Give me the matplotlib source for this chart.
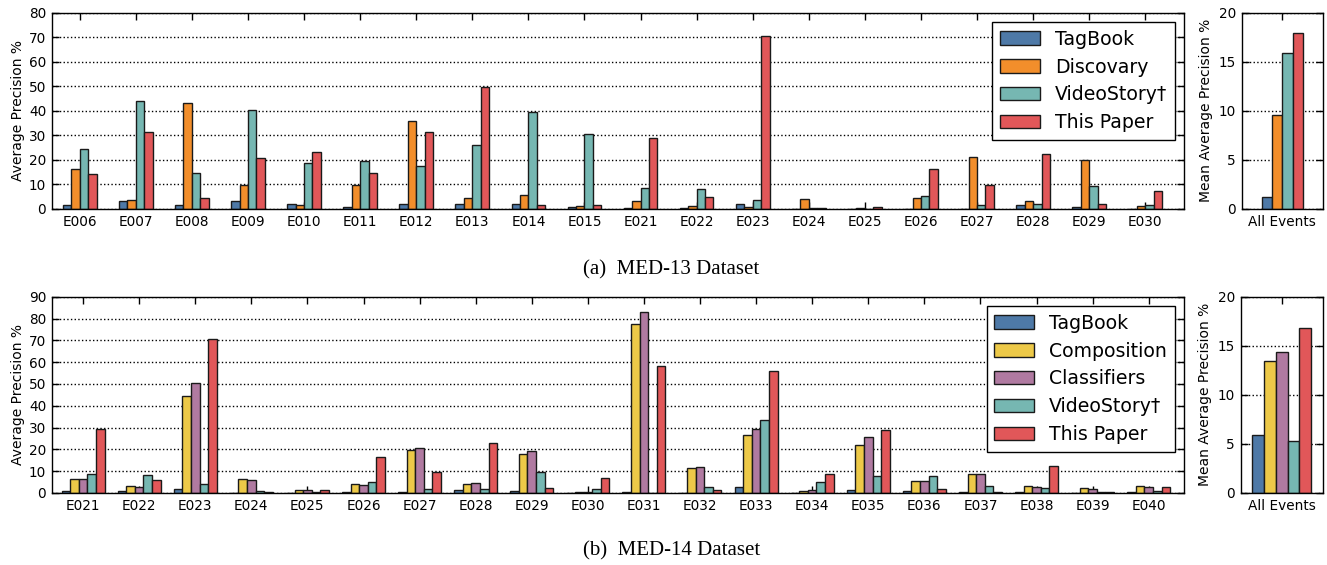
import matplotlib.pyplot as plt
import numpy as np

plt.rcParams['font.family'] = 'DejaVu Sans'

# MED-13 per-event average precision (%)
med13_events = ['E006', 'E007', 'E008', 'E009', 'E010', 'E011', 'E012', 'E013', 'E014', 'E015',
                'E021', 'E022', 'E023', 'E024', 'E025', 'E026', 'E027', 'E028', 'E029', 'E030']
med13_tagbook = [1.5, 3.3, 1.7, 3.2, 1.9, 1.0, 1.9, 2.0, 2.0, 1.0,
                 0.5, 0.3, 1.9, 0.1, 0.1, 0.2, 0.2, 1.5, 1.0, 0.2]
med13_discovery = [16.3, 3.5, 43.3, 9.6, 1.5, 9.6, 35.8, 4.3, 5.7, 1.1,
                   3.3, 1.4, 0.7, 3.9, 0.6, 4.5, 21.3, 3.3, 19.8, 1.1]
med13_videostory = [24.5, 43.9, 14.5, 40.2, 18.7, 19.4, 17.5, 26.0, 39.7, 30.7,
                    8.7, 8.0, 3.8, 0.5, 0.2, 5.2, 1.5, 1.9, 9.4, 1.5]
med13_thispaper = [14.2, 31.3, 4.5, 20.8, 23.3, 14.8, 31.3, 49.6, 1.6, 1.5,
                   28.9, 4.9, 70.7, 0.3, 0.9, 16.2, 9.8, 22.3, 2.0, 7.5]
med13_labels = ['TagBook', 'Discovary', 'VideoStory\u2020', 'This Paper']
med13_map = [1.25, 9.6, 15.9, 17.9]

# MED-14 per-event average precision (%)
med14_events = ['E021', 'E022', 'E023', 'E024', 'E025', 'E026', 'E027', 'E028', 'E029', 'E030',
                'E031', 'E032', 'E033', 'E034', 'E035', 'E036', 'E037', 'E038', 'E039', 'E040']
med14_tagbook = [0.7, 0.8, 1.7, 0.2, 0.2, 0.6, 0.3, 1.2, 0.8, 0.2,
                 0.3, 0.2, 2.8, 0.2, 1.2, 0.7, 0.4, 0.4, 0.2, 0.3]
med14_composition = [6.4, 3.0, 44.3, 6.3, 1.2, 4.3, 19.7, 4.1, 17.7, 0.6,
                     77.7, 11.5, 26.8, 1.1, 21.9, 5.5, 8.6, 3.0, 2.4, 3.2]
med14_classifiers = [6.6, 2.6, 50.6, 5.8, 1.5, 3.8, 20.6, 4.6, 19.1, 0.6,
                     83.0, 11.8, 29.2, 1.2, 25.5, 5.4, 8.9, 2.8, 1.8, 2.7]
med14_videostory = [8.9, 8.3, 4.1, 0.7, 0.3, 5.2, 1.7, 2.0, 9.5, 1.7,
                    0.2, 2.6, 33.3, 4.9, 7.8, 7.8, 3.0, 2.3, 0.3, 0.7]
med14_thispaper = [29.2, 5.8, 70.5, 0.3, 1.2, 16.4, 9.8, 22.9, 2.1, 6.7,
                   58.3, 1.2, 56.1, 8.6, 28.9, 1.8, 0.4, 12.5, 0.3, 2.9]
med14_labels = ['TagBook', 'Composition', 'Classifiers', 'VideoStory\u2020', 'This Paper']
med14_map = [5.9, 13.4, 14.4, 5.3, 16.8]

blue, orange, teal, red = '#4e79a7', '#f28e2b', '#76b7b2', '#e15759'
yellow, purple = '#edc948', '#b07aa1'
edge = '#1a1a1a'

W, H = 1327, 565
fig = plt.figure(figsize=(W / 100, H / 100), dpi=100)


def px_axes(l, r, t, b):
    return fig.add_axes([l / W, 1 - b / H, (r - l) / W, (b - t) / H])


def style(ax, yticks):
    ax.set_yticks(yticks)
    ax.set_ylim(yticks[0], yticks[-1])
    ax.yaxis.grid(True, linestyle=':', color='k', linewidth=1)
    ax.set_axisbelow(True)
    ax.tick_params(direction='in', top=True, right=True, length=5, width=1,
                   labelsize=9.8, pad=4)
    for s in ax.spines.values():
        s.set_linewidth(1)


def grouped(ax, series, colors, labels, width):
    n = len(series)
    x = np.arange(len(series[0]))
    for i, (vals, c, lab) in enumerate(zip(series, colors, labels)):
        ax.bar(x + (i - (n - 1) / 2) * width, vals, width, color=c,
               edgecolor=edge, linewidth=1, label=lab)


def summary(ax, vals, colors):
    x = np.arange(len(vals))
    ax.bar(x, vals, 1.0, color=colors, edgecolor=edge, linewidth=1)
    c = (len(vals) - 1) / 2
    ax.set_xticks([c])
    ax.set_xticklabels(['All Events'])


def legend(ax):
    leg = ax.legend(loc='upper right', fontsize=13.6, fancybox=False, framealpha=1,
                    edgecolor='k', handlelength=2.1, handleheight=0.7,
                    labelspacing=0.47, handletextpad=0.8, borderpad=0.4)
    leg.get_frame().set_linewidth(1)


# ---- (a) MED-13 ----
ax1 = px_axes(51.7, 1184, 12.7, 209)
cols13 = [blue, orange, teal, red]
grouped(ax1, [med13_tagbook, med13_discovery, med13_videostory, med13_thispaper],
        cols13, med13_labels, 0.15)
style(ax1, np.arange(0, 81, 10))
ax1.set_xticks(np.arange(len(med13_events)))
ax1.set_xticklabels(med13_events)
ax1.set_xlim(-0.5, 19.69)
ax1.set_ylabel('Average Precision %', fontsize=10)
ax1.yaxis.set_label_coords(-0.0235, 0.5)
legend(ax1)

ax2 = px_axes(1241.7, 1322.7, 12.7, 209)
summary(ax2, med13_map, cols13)
style(ax2, np.arange(0, 21, 5))
ax2.set_xlim(1.5 - 3.93, 1.5 + 3.93)
ax2.set_ylabel('Mean Average Precision %', fontsize=10)
ax2.yaxis.set_label_coords(-0.35, 0.5)

# ---- (b) MED-14 ----
ax3 = px_axes(51.7, 1184, 296.7, 493)
cols14 = [blue, yellow, purple, teal, red]
grouped(ax3, [med14_tagbook, med14_composition, med14_classifiers, med14_videostory, med14_thispaper],
        cols14, med14_labels, 0.153)
style(ax3, np.arange(0, 91, 10))
ax3.set_xticks(np.arange(len(med14_events)))
ax3.set_xticklabels(med14_events)
ax3.set_xlim(-0.56, 19.63)
ax3.set_ylabel('Average Precision %', fontsize=10)
ax3.yaxis.set_label_coords(-0.0235, 0.5)
legend(ax3)

ax4 = px_axes(1240.7, 1322.7, 296.7, 493)
summary(ax4, med14_map, cols14)
style(ax4, np.arange(0, 21, 5))
ax4.set_xlim(-1.5, 5.5)
ax4.set_ylabel('Mean Average Precision %', fontsize=10)
ax4.yaxis.set_label_coords(-0.35, 0.5)

fig.text(671.5 / W, 1 - 270 / H, '(a)  MED-13 Dataset', ha='center', va='center',
         family='Liberation Serif', fontsize=15)
fig.text(671.5 / W, 1 - 550.7 / H, '(b)  MED-14 Dataset', ha='center', va='center',
         family='Liberation Serif', fontsize=15)

fig.savefig('out.png', dpi=100, facecolor='white')
